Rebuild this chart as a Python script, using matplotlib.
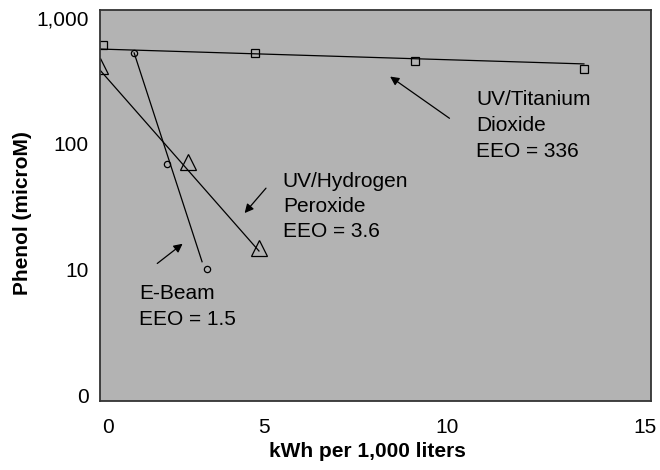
import matplotlib
matplotlib.use("Agg")
import matplotlib.pyplot as plt
from matplotlib.ticker import FixedLocator, FixedFormatter
from matplotlib.transforms import ScaledTranslation

plt.rcParams['font.family'] = ['Liberation Sans', 'DejaVu Sans']

tio2_x = [0.08, 4.22, 8.58, 13.18]
tio2_y = [610, 527, 455, 393]
h2o2_x = [0.0, 2.4, 4.33]
h2o2_y = [415, 71, 14.8]
ebeam_x = [0.93, 1.82, 2.91]
ebeam_y = [527, 69, 10]

# fitted first-order lines
tio2_fit_x = [0.0, 13.18]
tio2_fit_y = [566, 431]
h2o2_fit_x = [0.0, 4.33]
h2o2_fit_y = [385, 14.0]
ebeam_fit_x = [0.93, 2.78]
ebeam_fit_y = [527, 11.5]

y_ticks = [1, 10, 100, 1000]
y_labels = ['0', '10', '100', '1,000']
x_ticks = [0, 5, 10, 15]

fig = plt.figure(figsize=(6.6, 4.7), dpi=100)
ax = fig.add_axes([0.1515, 0.1468, 0.8345, 0.832])
ax.set_facecolor('#b3b3b3')

ax.plot(tio2_fit_x, tio2_fit_y, color='black', lw=0.9)
ax.plot(h2o2_fit_x, h2o2_fit_y, color='black', lw=0.9)
ax.plot(ebeam_fit_x, ebeam_fit_y, color='black', lw=0.9)

ax.plot(tio2_x, tio2_y, ls='none', marker='s', ms=5.5, mfc='none', mec='black', mew=0.9)
ax.plot(h2o2_x, h2o2_y, ls='none', marker='^', ms=11, mfc='none', mec='black', mew=0.9)
ax.plot(ebeam_x, ebeam_y, ls='none', marker='o', ms=4.5, mfc='none', mec='black', mew=0.9)

ax.set_yscale('log')
ax.set_xlim(0, 15)
ax.set_ylim(0.897, 1158)
ax.yaxis.set_major_locator(FixedLocator(y_ticks))
ax.yaxis.set_major_formatter(FixedFormatter(y_labels))
ax.yaxis.set_minor_locator(FixedLocator([]))
ax.set_xticks(x_ticks)
ax.tick_params(length=0, labelsize=15, pad=12)
ax.tick_params(axis='y', pad=8)

# the original's x labels sit a little off their ticks
for lab, dx in zip(ax.get_xticklabels(), [8, -20, -20, -6]):
    lab.set_transform(lab.get_transform() + ScaledTranslation(dx / 100, 0, fig.dpi_scale_trans))

for s in ax.spines.values():
    s.set_linewidth(1.3)
    s.set_color('#333333')

ax.set_xlabel('kWh per 1,000 liters', fontsize=15, fontweight='bold')
ax.set_ylabel('Phenol (microM)', fontsize=15, fontweight='bold')
ax.xaxis.set_label_coords(0.485, -0.105)
ax.yaxis.set_label_coords(-0.123, 0.48)

arrow = dict(arrowstyle='-|>', color='black', lw=0.9, mutation_scale=13)
ax.annotate('', xy=(7.84, 352), xytext=(9.58, 154.6), arrowprops=arrow)
ax.annotate('', xy=(3.89, 27), xytext=(4.57, 46), arrowprops=arrow)
ax.annotate('', xy=(2.31, 16.5), xytext=(1.50, 10.8), arrowprops=arrow)

ax.text(10.24, 140, 'UV/Titanium\nDioxide\nEEO = 336', fontsize=15, va='center', ha='left', linespacing=1.45)
ax.text(4.98, 31.5, 'UV/Hydrogen\nPeroxide\nEEO = 3.6', fontsize=15, va='center', ha='left', linespacing=1.4)
ax.text(1.06, 5.1, 'E-Beam\nEEO = 1.5', fontsize=15, va='center', ha='left', linespacing=1.45)

fig.savefig('out.png', dpi=100)
